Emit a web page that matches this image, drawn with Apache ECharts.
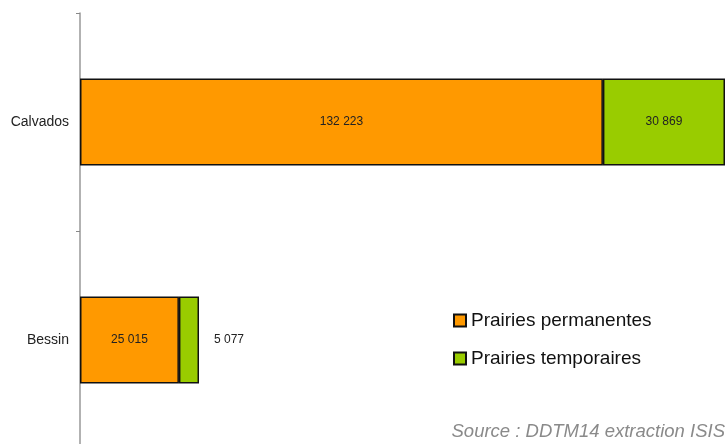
<!DOCTYPE html>
<html><head><meta charset="utf-8">
<script src="https://cdn.jsdelivr.net/npm/echarts@6/dist/echarts.min.js"></script>
<style>html,body{margin:0;padding:0;background:#fff}#c{width:725px;height:444px}</style>
</head><body><div id="c"></div>
<script>
const categories = ['Bessin', 'Calvados'];
const permanentes = [25015, 132223];
const temporaires = [5077, 30869];
const seriesNames = ['Prairies permanentes', 'Prairies temporaires'];
const sourceText = 'Source : DDTM14 extraction ISIS';

const fmt = v => String(v).replace(/\B(?=(\d{3})+(?!\d))/g, ' ');
const chart = echarts.init(document.getElementById('c'));
const labelBase = {show: true, color: '#222', fontSize: 12, fontFamily: 'Liberation Sans, Arial', formatter: p => fmt(p.value)};
chart.setOption({
  animation: false,
  grid: {left: 80, right: 0, top: 13, height: 436, containLabel: false, outerBoundsMode: 'none'},
  xAxis: {type: 'value', min: 0, max: 163092, show: false},
  yAxis: {
    type: 'category', data: categories,
    axisLine: {show: true, onZero: false, lineStyle: {color: '#999', width: 1.5}},
    axisTick: {show: true, length: 4, lineStyle: {color: '#888', width: 1}},
    axisLabel: {color: '#222', fontSize: 14, fontFamily: 'Liberation Sans, Arial', margin: 11}
  },
  legend: {
    orient: 'vertical', left: 448, top: 306, itemGap: 19,
    icon: 'rect', itemWidth: 12, itemHeight: 12,
    textStyle: {fontSize: 19, color: '#111', fontFamily: 'Liberation Sans, Arial'},
    data: seriesNames
  },
  series: [
    {name: seriesNames[0], type: 'bar', stack: 'a', barWidth: 87,
     itemStyle: {color: '#FF9900', borderColor: '#111', borderWidth: 1.5},
     label: Object.assign({position: 'inside'}, labelBase),
     data: permanentes},
    {name: seriesNames[1], type: 'bar', stack: 'a', barWidth: 87,
     itemStyle: {color: '#99CC00', borderColor: '#111', borderWidth: 1.5},
     label: Object.assign({position: 'inside'}, labelBase),
     data: temporaires.map((v, i) => i === 0 ? {value: v, label: {position: 'right', distance: 15}} : v)}
  ],
  graphic: [{type: 'text', right: 0, top: 422,
    style: {text: sourceText, fill: '#8a8a8a', fontSize: 18.5, fontStyle: 'italic', fontFamily: 'Liberation Sans, Arial'}}]
});
</script></body></html>
